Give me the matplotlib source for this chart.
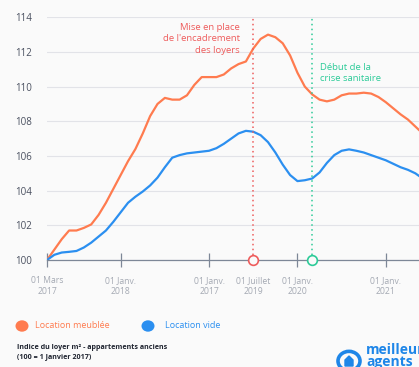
import matplotlib.pyplot as plt
from matplotlib.patches import Circle, Polygon
import numpy as np

plt.rcParams['font.family'] = ['Open Sans', 'DejaVu Sans']

# months since 01 March 2017
months = np.arange(52)

meublee = [100.0, 100.6, 101.2, 101.7, 101.7, 101.85, 102.05, 102.6, 103.3, 104.1,
           104.9, 105.7, 106.4, 107.3, 108.3, 109.0, 109.35, 109.25, 109.25, 109.5,
           110.1, 110.55, 110.55, 110.55, 110.7, 111.05, 111.3, 111.45, 112.2, 112.75,
           113.0, 112.85, 112.5, 111.8, 110.8, 110.0, 109.55, 109.25, 109.15, 109.25,
           109.5, 109.6, 109.6, 109.65, 109.6, 109.4, 109.1, 108.75, 108.4, 108.1,
           107.7, 107.3]

vide = [100.0, 100.3, 100.43, 100.47, 100.52, 100.72, 101.0, 101.35, 101.7, 102.2,
        102.75, 103.3, 103.65, 103.95, 104.3, 104.75, 105.35, 105.9, 106.05, 106.15,
        106.2, 106.25, 106.3, 106.45, 106.7, 107.0, 107.3, 107.45, 107.4, 107.2,
        106.8, 106.2, 105.5, 104.9, 104.55, 104.6, 104.7, 105.05, 105.6, 106.05,
        106.3, 106.38, 106.3, 106.2, 106.05, 105.9, 105.75, 105.55, 105.35, 105.2,
        105.0, 104.7]

tick_pos = [0, 10, 22, 34, 46]
label_pos = [0, 10, 22, 28, 34, 46]
label_txt = ['01 Mars\n2017', '01 Janv.\n2018', '01 Janv.\n2017',
             '01 Juillet\n2019', '01 Janv.\n2020', '01 Janv.\n2021']

encadrement = 28   # juillet 2019
crise = 36         # mars 2020

ORANGE = '#ff7b4f'
BLUE = '#2b8ff0'
RED = '#ee5c5c'
GREEN = '#2ccb98'
BG = '#fafafa'

fig = plt.figure(figsize=(4.19, 3.67), dpi=100, facecolor=BG)
ax = fig.add_axes([0.1122, 0.2916, 0.8878, 0.6613])
ax.set_facecolor(BG)

ax.plot(months, meublee, color=ORANGE, lw=1.6, solid_capstyle='round')
ax.plot(months, vide, color=BLUE, lw=1.6, solid_capstyle='round')

ax.set_xlim(0, 50.5)
ax.set_ylim(100, 114)
ax.set_yticks(np.arange(100, 115, 2))
ax.grid(axis='y', color='#e2e3e8', lw=0.8)
ax.set_axisbelow(True)
for s in ['top', 'right', 'left']:
    ax.spines[s].set_visible(False)
ax.spines['bottom'].set_color('#7d8797')
ax.spines['bottom'].set_linewidth(0.9)
ax.tick_params(axis='y', length=0, labelsize=7, labelcolor='#4a5060', pad=11)

# ticks
ax.set_xticks(tick_pos)
ax.set_xticklabels([])
ax.tick_params(axis='x', direction='inout', length=10, color='#7d8797', width=0.9)
for p, t in zip(label_pos, label_txt):
    ax.text(p, -0.065, t, transform=ax.get_xaxis_transform(), ha='center', va='top',
            fontsize=6.2, color='#a4a9b3', linespacing=1.25)

# event lines
for x, c in [(encadrement, RED), (crise, GREEN)]:
    ax.plot([x, x], [100, 114], color=c, lw=1.1, ls=(0, (1, 2.2)))
    ax.plot([x], [100], marker='o', ms=7, mfc=BG, mec=c, mew=1.2, clip_on=False, zorder=5)

ax.text(26.2, 113.65, "Mise en place\nde l'encadrement\ndes loyers", ha='right', va='top',
        fontsize=6.8, color=RED, linespacing=1.3)
ax.text(37.0, 111.35, "Début de la\ncrise sanitaire", ha='left', va='top',
        fontsize=6.8, color=GREEN, linespacing=1.3)

# legend
fig.patches.append(Circle((22 / 419, 1 - 326 / 367), 6.5 / 419, transform=fig.transFigure,
                          color=ORANGE, ec='none'))
fig.patches.append(Circle((148 / 419, 1 - 326 / 367), 6.5 / 419, transform=fig.transFigure,
                          color=BLUE, ec='none'))
fig.text(35 / 419, 1 - 326 / 367, 'Location meublée', color=ORANGE, fontsize=6.5, va='center')
fig.text(165 / 419, 1 - 326 / 367, 'Location vide', color=BLUE, fontsize=6.5, va='center')

fig.text(17 / 419, 1 - 352 / 367, 'Indice du loyer m² - appartements anciens\n(100 = 1 Janvier 2017)',
         fontsize=5.1, fontweight='bold', color='#1f2430', va='center', linespacing=1.3)

# logo
cx, cy = 349, 361
fig.patches.append(Circle((cx / 419, 1 - cy / 367), 11 / 419, transform=fig.transFigure,
                          fill=False, ec='#1e86e8', lw=2.6))
house = np.array([[cx - 4, cy + 5], [cx - 4, cy - 1], [cx, cy - 5], [cx + 4, cy - 1], [cx + 4, cy + 5]])
house = np.column_stack([house[:, 0] / 419, 1 - house[:, 1] / 367])
fig.patches.append(Polygon(house, closed=True, transform=fig.transFigure, color='#1e86e8'))
fig.text(366 / 419, 1 - 343 / 367, 'meilleur\nagents', fontsize=10, fontweight='bold',
         color='#1e86e8', va='top', ha='left', linespacing=0.85)

fig.savefig('out.png', dpi=100, facecolor=BG)
